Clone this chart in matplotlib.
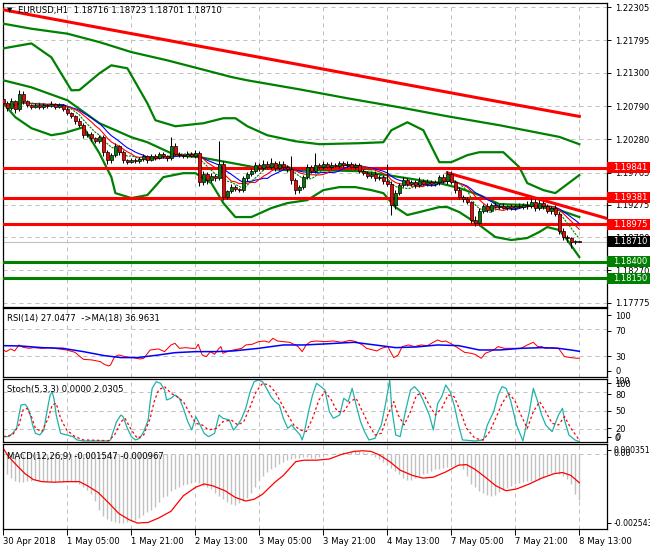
import matplotlib
matplotlib.use('Agg')
import matplotlib.pyplot as plt
from matplotlib.patches import Rectangle
from matplotlib.transforms import blended_transform_factory
import numpy as np
import pandas as pd

plt.rcParams['font.family'] = ['DejaVu Sans']

# EURUSD H1, 30 Apr 2018 13:00 .. 8 May 2018 13:00 (145 bars)
first_open = 1.2090
closes = [
    1.2084, 1.2076, 1.2086, 1.2074, 1.2098, 1.2086, 1.2080, 1.2078, 1.2081, 1.2077,
    1.2080, 1.2079, 1.2082, 1.2078, 1.2080, 1.2075, 1.2068, 1.2063, 1.2056, 1.2050,
    1.2034, 1.2036, 1.2030, 1.2026, 1.2031, 1.2008, 1.1996, 1.2004, 1.2017, 1.2008,
    1.1996, 1.1993, 1.1997, 1.1994, 1.1998, 1.2002, 1.1996, 1.2003, 1.2000, 1.2005,
    1.2002, 1.1999, 1.2018, 1.2006, 1.2004, 1.2002, 1.2006, 1.2003, 1.2007, 1.1962,
    1.1975, 1.1965, 1.1972, 1.1968, 1.1990, 1.1940, 1.1948, 1.1955, 1.1952, 1.1950,
    1.1968, 1.1975, 1.1980, 1.1988, 1.1984, 1.1990, 1.1986, 1.1992, 1.1984, 1.1990,
    1.1986, 1.1982, 1.1965, 1.1950, 1.1955, 1.1970, 1.1985, 1.1980, 1.1988, 1.1985,
    1.1990, 1.1986, 1.1989, 1.1987, 1.1991, 1.1988, 1.1990, 1.1986, 1.1988, 1.1980,
    1.1976, 1.1972, 1.1975, 1.1968, 1.1970, 1.1964, 1.1960, 1.1927, 1.1945, 1.1958,
    1.1966, 1.1960, 1.1962, 1.1958, 1.1964, 1.1960, 1.1963, 1.1960, 1.1962, 1.1970,
    1.1964, 1.1975, 1.1962, 1.1950, 1.1940, 1.1936, 1.1932, 1.1905, 1.1900, 1.1918,
    1.1926, 1.1920, 1.1928, 1.1924, 1.1926, 1.1923, 1.1925, 1.1922, 1.1926, 1.1924,
    1.1928, 1.1925, 1.1932, 1.1922, 1.1930, 1.1925, 1.1918, 1.1922, 1.1914, 1.1888,
    1.1878, 1.1876, 1.1871, 1.18716, 1.18710,
]
# wick lengths in pips above / below the body
up_wick = [
    4, 3, 5, 3, 5, 4, 3, 2, 3, 2,
    3, 2, 4, 2, 3, 2, 3, 2, 3, 4,
    3, 5, 3, 2, 4, 3, 4, 3, 6, 3,
    3, 2, 3, 2, 3, 4, 2, 3, 2, 4,
    3, 2, 13, 4, 3, 2, 4, 3, 5, 3,
    4, 3, 4, 3, 36, 4, 3, 5, 3, 2,
    4, 3, 4, 5, 3, 6, 4, 8, 3, 5,
    4, 3, 20, 4, 3, 3, 5, 4, 19, 3,
    4, 3, 4, 3, 4, 3, 4, 3, 4, 3,
    3, 4, 3, 5, 3, 4, 26, 4, 5, 3,
    4, 3, 4, 3, 6, 3, 4, 3, 4, 3,
    5, 4, 4, 3, 5, 3, 4, 2, 5, 4,
    3, 4, 3, 4, 3, 4, 3, 4, 3, 4,
    3, 5, 6, 4, 5, 3, 4, 3, 5, 3,
    4, 3, 3, 2, 0.7,
]
lo_wick = [
    3, 4, 3, 5, 3, 4, 3, 3, 2, 3,
    2, 3, 2, 3, 2, 4, 3, 3, 4, 3,
    4, 3, 5, 3, 3, 5, 6, 4, 3, 4,
    4, 3, 2, 3, 2, 3, 4, 2, 3, 2,
    3, 4, 3, 2, 3, 2, 3, 2, 3, 5,
    4, 5, 3, 4, 3, 5, 4, 3, 4, 3,
    3, 4, 3, 3, 4, 3, 2, 3, 4, 3,
    3, 4, 5, 6, 4, 3, 3, 4, 3, 2,
    3, 2, 3, 2, 3, 2, 3, 2, 3, 4,
    3, 4, 3, 4, 3, 4, 3, 15, 6, 3,
    3, 4, 3, 4, 3, 2, 3, 4, 3, 4,
    3, 4, 3, 4, 3, 4, 3, 6, 5, 3,
    3, 4, 3, 2, 3, 2, 3, 2, 3, 2,
    3, 4, 3, 4, 3, 4, 3, 4, 3, 5,
    4, 5, 10, 4, 0.9,
]

# long moving averages (bar, price)
ma_red_bars = [0, 24, 48, 72, 96, 120, 144]
ma_red_vals = [1.22265, 1.21991, 1.21719, 1.21447, 1.21173, 1.20900, 1.20631]
ma_green_bars = [0, 7, 16, 24, 32, 41, 49, 57, 61, 74, 86, 99, 111, 124, 139, 144]
ma_green_vals = [1.22052, 1.21975, 1.21899, 1.21770, 1.21617, 1.21490, 1.21363, 1.21235,
                 1.21184, 1.21046, 1.20909, 1.20771, 1.20633, 1.20496, 1.20317, 1.20205]

# Bollinger bands (bar, price)
bb_up_bars = [0, 7, 12, 17, 19, 24, 27, 31, 36, 38, 43, 50, 55, 58, 61, 66, 73, 79, 89, 95,
              97, 101, 105, 109, 112, 116, 119, 125, 129, 131, 135, 138, 140, 144]
bb_up_vals = [1.21674, 1.21750, 1.21536, 1.21031, 1.21035, 1.21291, 1.21414, 1.21368,
              1.20832, 1.20572, 1.20480, 1.20526, 1.20603, 1.20603, 1.20480, 1.20342,
              1.20250, 1.20205, 1.20220, 1.20235, 1.20419, 1.20541, 1.20419, 1.19929,
              1.19929, 1.20037, 1.20082, 1.20082, 1.19853, 1.19608, 1.19501, 1.19455,
              1.19547, 1.19731]
bb_mid_bars = [0, 7, 16, 24, 32, 36, 43, 49, 56, 64, 71, 79, 89, 96, 104, 109, 114, 119,
               124, 131, 139, 144]
bb_mid_vals = [1.21184, 1.21077, 1.20878, 1.20526, 1.20312, 1.20235, 1.20037, 1.20006,
               1.19929, 1.19838, 1.19807, 1.19807, 1.19792, 1.19731, 1.19654, 1.19608,
               1.19532, 1.19425, 1.19287, 1.19272, 1.19195, 1.19088]
bb_lo_bars = [0, 3, 7, 12, 15, 20, 24, 27, 28, 32, 36, 40, 45, 48, 52, 55, 58, 62, 67, 71,
              76, 80, 84, 88, 92, 95, 98, 101, 104, 109, 111, 114, 119, 123, 127, 131,
              134, 136, 139, 141, 144]
bb_lo_vals = [1.20832, 1.20618, 1.20450, 1.20343, 1.20373, 1.20465, 1.20067, 1.19700,
              1.19455, 1.19379, 1.19425, 1.19700, 1.19761, 1.19761, 1.19608, 1.19302,
              1.19088, 1.19088, 1.19226, 1.19302, 1.19348, 1.19501, 1.19547, 1.19547,
              1.19501, 1.19455, 1.19241, 1.19119, 1.19164, 1.19241, 1.19241, 1.19164,
              1.18966, 1.18782, 1.18736, 1.18767, 1.18859, 1.18935, 1.18889, 1.18736,
              1.18476]

red_levels = [1.19841, 1.19381, 1.18975]
green_levels = [1.18400, 1.18150]
current_price = 1.18710
trend_bars = [111, 151]
trend_vals = [1.19766, 1.19065]

# RSI(14) and its MA(18) (bar, value)
rsi_bars = [0, 0.7, 1.8, 2.8, 3.9, 4.9, 6.5, 7.5, 9.6, 11.7, 13.8, 15.8, 17.9, 20, 22.1,
            24.2, 25.2, 26.3, 26.8, 27.8, 28.9, 30.4, 32.5, 34.1, 35.1, 36.7, 38.8, 40.3,
            41.9, 42.9, 44, 45.5, 47.1, 48.1, 48.7, 49.7, 50.7, 51.8, 52.8, 53.9, 54.4,
            54.9, 56, 57.5, 59.6, 60.6, 62.2, 63.8, 65.3, 66.4, 67.4, 68.5, 70, 71.6, 72.6,
            73.7, 74.7, 75.7, 76.8, 78.3, 80.4, 82.5, 84.6, 86.7, 88.2, 89.8, 90.8, 92.4,
            93.4, 94.5, 96.1, 97.6, 98.7, 99.7, 101.3, 102.8, 104.4, 106, 107.5, 108.6,
            109.6, 110.6, 112.2, 113.8, 115.3, 116.9, 117.9, 119.5, 120.5, 121.6, 122.6,
            123.7, 125.2, 126.8, 129.4, 131, 132.5, 133.6, 134.6, 135.6, 137.2, 138.8,
            140.3, 141.9, 143.4, 144]
rsi_vals = [38.9, 36.5, 40.4, 37.5, 46.2, 42.8, 41.3, 42.3, 41.3, 42.3, 40.4, 38.9, 35.5,
            25.3, 24.4, 22.0, 18.1, 15.6, 17.1, 29.2, 31.6, 29.2, 27.8, 25.8, 26.8, 38.9,
            40.4, 36.5, 46.2, 48.6, 41.3, 42.3, 41.3, 41.3, 47.2, 31.6, 29.2, 36.5, 32.6,
            41.3, 43.8, 34.1, 36.5, 38.9, 41.3, 46.2, 47.2, 51.0, 52.0, 50.1, 55.9, 52.0,
            51.0, 50.1, 47.2, 43.8, 36.5, 46.2, 51.0, 52.0, 51.0, 52.0, 50.1, 53.0, 51.0,
            46.2, 41.3, 38.9, 37.5, 41.3, 43.8, 27.8, 31.6, 43.8, 46.2, 43.8, 46.2, 45.2,
            50.1, 53.5, 51.0, 52.0, 47.2, 41.3, 35.5, 34.1, 32.6, 26.8, 34.1, 36.5, 38.9,
            43.8, 41.3, 41.3, 41.3, 46.2, 50.1, 43.8, 43.8, 41.3, 42.3, 41.3, 29.2, 27.8,
            26.8, 27.05]
rsi_ma_bars = [0, 4.4, 9.6, 14.8, 20, 25.2, 29.4, 33.5, 38.8, 42.9, 48.1, 53.3, 57.5, 63.8,
               70, 75.2, 80.4, 87.7, 92.9, 98.1, 103.3, 108.6, 113.8, 119, 124.2, 129.4,
               134.6, 138.8, 141.9, 144]
rsi_ma_vals = [45.2, 44.7, 42.3, 41.3, 36.5, 30.7, 27.8, 27.8, 31.6, 35.0, 36.5, 36.5,
               37.5, 41.3, 46.2, 46.2, 47.7, 50.1, 46.2, 42.3, 43.3, 46.2, 45.2, 38.9, 38.9,
               41.3, 42.3, 41.3, 38.9, 36.96]

# Stochastic(5,3,3) main and signal (bar, value)
sto_k_bars = [0, 1.3, 2.3, 3.3, 3.9, 4.4, 5.4, 5.9, 6.5, 7.3, 8.0, 9.1, 10.1, 10.6, 11.2,
              11.7, 12.2, 12.7, 13.2, 14.3, 15.8, 17.4, 18.4, 20, 23.1, 26.3, 26.8, 27.3,
              28.3, 29.4, 29.9, 31, 32, 33, 34.1, 35.1, 36.2, 36.7, 37.2, 38.2, 39.3, 40.3,
              40.8, 41.9, 42.9, 44, 45, 46.1, 47.1, 48.1, 49.2, 50.2, 51.3, 52.8, 53.9,
              54.9, 56.5, 57.5, 58.6, 59.6, 60.6, 61.7, 62.7, 63.8, 64.8, 65.8, 66.9, 67.9,
              69, 70, 71.1, 72.1, 73.1, 74.2, 74.7, 75.2, 76.3, 77.3, 78.3, 79.4, 80.4,
              81.5, 82.5, 84.1, 85.1, 86.2, 87.2, 88.2, 89.3, 90.3, 91.4, 92.9, 94.5, 95.5,
              96.6, 97.1, 98.1, 99.2, 100.7, 101.8, 102.8, 103.9, 104.9, 106.5, 107.5,
              108.6, 109.6, 110.6, 111.7, 112.7, 113.8, 114.8, 117.9, 120, 121, 122.6,
              123.7, 124.7, 125.7, 126.8, 128.3, 129.9, 131.5, 132.5, 133.6, 134.6, 135.6,
              137.2, 138.8, 139.8, 140.3, 141.4, 142.9, 144]
sto_k_vals = [8.1, 8.1, 13.4, 21.5, 42.8, 58.8, 59.9, 56.2, 48.2, 26.8, 13.4, 10.8, 18.8,
              37.5, 58.8, 74.9, 80.2, 66.9, 42.8, 13.4, 10.8, 8.1, 2.8, 1.2, 1.2, 1.2, 2.8,
              13.4, 32.1, 42.8, 40.2, 21.5, 8.1, 2.8, 5.4, 16.1, 34.8, 64.2, 85.5, 96.2,
              93.5, 82.9, 66.9, 69.5, 74.9, 69.5, 53.5, 32.1, 18.8, 40.2, 26.8, 13.4, 8.1,
              13.4, 42.8, 37.5, 34.8, 18.8, 26.8, 37.5, 53.5, 80.2, 96.2, 98.9, 96.2, 85.5,
              72.2, 64.2, 58.8, 37.5, 21.5, 26.8, 18.8, 10.8, 2.8, 13.4, 48.2, 74.9, 93.5,
              88.2, 82.9, 48.2, 37.5, 42.8, 69.5, 64.2, 85.5, 58.8, 32.1, 16.1, 2.8, 5.4,
              26.8, 58.8, 98.9, 53.5, 10.8, 8.1, 53.5, 82.9, 88.2, 80.2, 66.9, 42.8, 18.8,
              61.5, 72.2, 90.9, 80.2, 58.8, 26.8, 2.8, 1.2, 2.8, 26.8, 48.2, 74.9, 88.2,
              85.5, 66.9, 26.8, 1.2, 48.2, 85.5, 64.2, 42.8, 26.8, 16.1, 42.8, 53.5, 34.8,
              10.8, 2.8, 0.0]
sto_d_bars = [0, 2.3, 3.9, 4.9, 5.9, 7, 8, 9.6, 11.2, 12.2, 13.2, 14.3, 15.8, 17.9, 20,
              26.3, 27.8, 29.4, 30.4, 32, 33.5, 35.1, 36.7, 37.7, 38.8, 40.3, 41.9, 43.4,
              45, 46.6, 48.1, 49.7, 51.3, 53.3, 54.9, 57, 58.6, 60.1, 61.7, 63.2, 64.8,
              66.4, 67.9, 69.5, 71.1, 72.6, 74.2, 75.7, 77.3, 78.9, 80.4, 82, 83.5, 85.1,
              86.7, 88.2, 89.8, 91.4, 92.9, 94.5, 96.1, 97.6, 98.7, 100.2, 101.8, 103.3,
              104.9, 106.5, 108, 109.6, 111.2, 112.7, 114.3, 115.8, 117.9, 120, 121.6,
              123.1, 124.7, 126.3, 127.8, 129.4, 131, 132.5, 134.1, 135.6, 137.2, 138.8,
              140.3, 141.9, 143.4, 144]
sto_d_vals = [8.1, 10.8, 26.8, 50.8, 53.5, 40.2, 21.5, 16.1, 37.5, 58.8, 61.5, 37.5, 18.8,
              8.1, 2.8, 1.7, 10.8, 32.1, 37.5, 18.8, 5.4, 10.8, 37.5, 64.2, 82.9, 88.2,
              77.5, 72.2, 64.2, 45.5, 29.5, 26.8, 18.8, 21.5, 32.1, 34.8, 26.8, 32.1, 56.2,
              80.2, 93.5, 90.9, 80.2, 61.5, 42.8, 26.8, 18.8, 16.1, 37.5, 66.9, 80.2, 66.9,
              48.2, 48.2, 64.2, 69.5, 48.2, 26.8, 10.8, 13.4, 42.8, 64.2, 42.8, 26.8, 48.2,
              74.9, 77.5, 58.8, 42.8, 53.5, 74.9, 72.2, 48.2, 21.5, 5.4, 2.8, 16.1, 37.5,
              61.5, 77.5, 66.9, 42.8, 21.5, 48.2, 64.2, 48.2, 29.5, 26.8, 40.2, 21.5, 8.1,
              2.03]

# MACD(12,26,9): main (histogram) per bar, in units of 1e-5
macd_main_e5 = [
    -49, -66, -81, -91, -95, -94, -92, -92, -89, -91,
    -92, -94, -95, -93, -92, -93, -95, -92, -93, -100,
    -112, -121, -134, -160, -190, -211, -220, -227, -231, -234,
    -233, -231, -228, -224, -218, -207, -198, -190, -179, -164,
    -147, -141, -126, -118, -110, -105, -102, -96, -94, -96,
    -107, -113, -119, -133, -143, -153, -162, -168, -173, -167,
    -160, -150, -133, -110, -87, -74, -60, -51, -43, -33,
    -27, -21, -15, -13, -12, -10, -9, -11, -12, -9,
    -4, -1, 2, 4, 6, 8, 8, 9, 11, 12,
    8, 4, -2, -8, -16, -26, -36, -47, -57, -68,
    -79, -87, -86, -80, -74, -68, -62, -56, -50, -49,
    -47, -44, -43, -40, -38, -49, -74, -100, -113, -124,
    -133, -139, -141, -139, -130, -121, -115, -109, -100, -96,
    -93, -92, -90, -88, -86, -80, -70, -63, -62, -68,
    -75, -83, -101, -136, -155,
]
# MACD signal line (bar, value in 1e-5)
macd_sig_bars = [0, 1.3, 3.3, 5.4, 7.5, 9.6, 12.7, 15.8, 19, 21, 23.7, 26.3, 28.9, 31.5,
                 33.5, 36.2, 38.8, 41.9, 45, 48.1, 50.2, 52.3, 55.4, 58, 60.6, 62.7, 64.8,
                 67.9, 70, 73.1, 75.2, 78.3, 81.5, 84.6, 87.7, 89.8, 91.9, 94, 96.6, 99.2,
                 102.3, 104.9, 107.5, 110.6, 113.8, 115.8, 117.9, 120.5, 123.1, 125.7,
                 128.3, 131.5, 134.6, 137.7, 139.8, 141.9, 144]
macd_sig_e5 = [19, -8, -37, -66, -86, -93, -95, -93, -93, -107, -130, -165, -202, -223,
               -234, -232, -217, -194, -141, -112, -101, -107, -124, -147, -159, -153,
               -136, -95, -72, -25, -20, -20, -16, 0, 10, 12, 10, -2, -25, -54, -72, -81,
               -78, -60, -37, -35, -51, -78, -107, -124, -118, -101, -81, -66, -62, -72,
               -96.7]

price_ticks = [1.22305, 1.21795, 1.21300, 1.20790, 1.20280, 1.19765, 1.19275,
               1.18780, 1.18270, 1.17775]
time_bars = [0, 16, 32, 48, 64, 80, 96, 112, 128, 144]
time_labels = ['30 Apr 2018', '1 May 05:00', '1 May 21:00', '2 May 13:00', '3 May 05:00',
               '3 May 21:00', '4 May 13:00', '7 May 05:00', '7 May 21:00', '8 May 13:00']

title = 'EURUSD,H1  1.18716 1.18723 1.18701 1.18710'
rsi_title = 'RSI(14) 27.0477  ->MA(18) 36.9631'
sto_title = 'Stoch(5,3,3) 0.0000 2.0305'
macd_title = 'MACD(12,26,9) -0.001547 -0.000967'

# ---------------------------------------------------------------
c = np.array(closes)
o = np.array([first_open] + closes[:-1])
h = np.maximum(o, c) + np.array(up_wick) * 0.0001
l = np.minimum(o, c) - np.array(lo_wick) * 0.0001
n = len(c)
xb = np.arange(n)
s = pd.Series(c)

W, H = 650, 550
fig = plt.figure(figsize=(W / 100, H / 100), dpi=100)
fig.patch.set_facecolor('white')


def px_box(x0, y0, x1, y1):
    return [x0 / W, 1 - y1 / H, (x1 - x0) / W, (y1 - y0) / H]


ax = fig.add_axes(px_box(3, 2.5, 606.7, 306.5))
ax_rsi = fig.add_axes(px_box(3, 308, 606.7, 376.7))
ax_sto = fig.add_axes(px_box(3, 379.3, 606.7, 441.7))
ax_macd = fig.add_axes(px_box(3, 444, 606.7, 529))

XMIN, XMAX = -0.1, 150.85
ax_w = 603.7
grid_kw = dict(color='#c0c0c0', lw=0.72, ls=(0, (4, 4)), zorder=0)

for a in (ax, ax_rsi, ax_sto, ax_macd):
    a.set_xlim(XMIN, XMAX)
    for sp in a.spines.values():
        sp.set_color('black')
        sp.set_linewidth(0.9)
    for tb in time_bars:
        a.axvline(tb, **grid_kw)
    a.yaxis.tick_right()
    a.tick_params(axis='y', which='both', length=3, width=0.7, pad=3,
                  labelsize=6, colors='black')
    a.set_xticks(time_bars)
    a.tick_params(axis='x', length=0, labelbottom=False)

# ---- main price panel
ax.set_ylim(1.17717, 1.22377)
for p in price_ticks:
    ax.axhline(p, **grid_kw)
ax.set_yticks(price_ticks)
ax.set_yticklabels(['%.5f' % p for p in price_ticks])

ax.plot(ma_red_bars, ma_red_vals, color='#ff0000', lw=2.2, zorder=3)
ax.plot(ma_green_bars, ma_green_vals, color='#008000', lw=1.6, zorder=3)
for bx, bv in ((bb_up_bars, bb_up_vals), (bb_mid_bars, bb_mid_vals), (bb_lo_bars, bb_lo_vals)):
    ax.plot(bx, bv, color='#008000', lw=1.6, zorder=3)

for lv in red_levels:
    ax.axhline(lv, color='#ff0000', lw=2.2, zorder=4)
for lv in green_levels:
    ax.axhline(lv, color='#008000', lw=2.2, zorder=4)
ax.axhline(current_price, color='#c0c0c0', lw=0.8, zorder=2)
ax.plot(trend_bars, trend_vals, color='#ff0000', lw=2.2, zorder=4)

# short moving averages
ax.plot(xb, s.rolling(12, min_periods=1).mean(), color='#0000ff', lw=0.8, zorder=5)
ax.plot(xb, s.rolling(9, min_periods=1).mean(), color='#ff0000', lw=0.8, zorder=5)
ax.plot(xb, s.rolling(6, min_periods=1).mean(), color='#008000', lw=0.8,
        ls=(0, (2, 1)), zorder=5)

# candles
ax.vlines(xb, l, h, color='black', lw=0.75, zorder=6)
body = np.maximum(np.abs(c - o), 0.00002)
cols = np.where(c >= o, '#008000', '#ff0000')
ax.bar(xb, body, bottom=np.minimum(o, c), width=0.7, color=cols,
       edgecolor='black', linewidth=0.5, zorder=7)

# right-side price boxes
blend = blended_transform_factory(ax.transAxes, ax.transData)
ppx = (1.22377 - 1.17717) / 304.0
boxes = [(lv, '#ff0000') for lv in red_levels] + [(current_price, 'black')] + \
        [(lv, '#008000') for lv in green_levels]
for lv, col in boxes:
    ax.add_patch(Rectangle((1.0, lv - 5.5 * ppx), 44 / ax_w, 11 * ppx, transform=blend,
                           facecolor=col, edgecolor='none', clip_on=False, zorder=10))
    ax.text(1.0 + 6.3 / ax_w, lv, '%.5f' % lv, transform=blend, color='white',
            fontsize=6, va='center', ha='left', clip_on=False, zorder=11)

fig.text(7 / W, 1 - 10 / H, '\u25bc', fontsize=5, va='center', ha='left')
fig.text(18 / W, 1 - 10 / H, title, fontsize=6.1, va='center', ha='left')

# ---- RSI
ax_rsi.set_ylim(0, 100)
for lv in (30, 70):
    ax_rsi.axhline(lv, **grid_kw)
ax_rsi.plot(rsi_bars, rsi_vals, color='#ff0000', lw=0.75)
ax_rsi.plot(rsi_ma_bars, rsi_ma_vals, color='#0000ff', lw=1.1)
ax_rsi.set_yticks([8.3, 30, 67, 89.8])
ax_rsi.set_yticklabels(['0', '30', '70', '100'])
ax_rsi.text(4 / ax_w, 1 - 10 / 68.7, rsi_title, transform=ax_rsi.transAxes,
            fontsize=6.1, va='center', ha='left')

# ---- Stochastic
ax_sto.set_ylim(0, 100)
for lv in (20, 50, 80):
    ax_sto.axhline(lv, **grid_kw)
ax_sto.plot(sto_k_bars, sto_k_vals, color='#20b2aa', lw=0.9)
ax_sto.plot(sto_d_bars, sto_d_vals, color='#ff0000', lw=0.9, ls=(0, (2, 2)))
ax_sto.set_yticks([8, 21.5, 49.2, 76.4, 93.6])
ax_sto.set_yticklabels(['0', '20', '50', '80', '100'])
tb_sto = blended_transform_factory(ax_sto.transAxes, ax_sto.transData)
ax_sto.text(1.0 + 7.5 / ax_w, 96.8, '100', transform=tb_sto, fontsize=6, va='center',
            clip_on=False)
ax_sto.text(1.0 + 7.5 / ax_w, 5.0, '0', transform=tb_sto, fontsize=6, va='center',
            clip_on=False)
ax_sto.text(4 / ax_w, 1 - 10 / 62.4, sto_title, transform=ax_sto.transAxes,
            fontsize=6.1, va='center', ha='left')

# ---- MACD
ax_macd.set_ylim(-0.002543, 0.000351)
ax_macd.axhline(0, **grid_kw)
ax_macd.vlines(xb, 0, np.array(macd_main_e5) * 1e-5, color='#c0c0c0', lw=1.0)
ax_macd.plot(macd_sig_bars, np.array(macd_sig_e5) * 1e-5, color='#ff0000', lw=0.9)
ax_macd.set_yticks([-0.002324, 0.000152])
ax_macd.set_yticklabels(['-0.002543', '0.000351'])
ax_macd.tick_params(axis='y', labelsize=5.6, pad=2.2)
tb_m = blended_transform_factory(ax_macd.transAxes, ax_macd.transData)
ax_macd.text(1.0 + 6.3 / ax_w, 0.000037, '0.00', transform=tb_m, fontsize=5.8,
             va='center', clip_on=False)
ax_macd.text(4 / ax_w, 1 - 12 / 85, macd_title, transform=ax_macd.transAxes,
             fontsize=6.1, va='center', ha='left')
ax_macd.tick_params(axis='x', length=4, width=0.7, labelbottom=True, labelsize=6.1,
                    pad=2, direction='out')
ax_macd.set_xticklabels(time_labels)
for lab in ax_macd.get_xticklabels():
    lab.set_ha('left')

fig.savefig('out.png', dpi=100, facecolor='white')
